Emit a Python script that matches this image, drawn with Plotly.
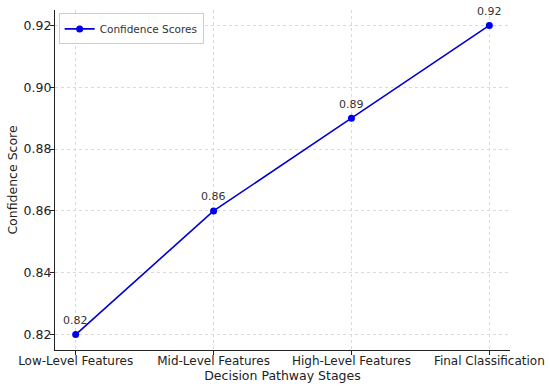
import plotly.graph_objects as go

stages = ["Low-Level Features", "Mid-Level Features", "High-Level Features", "Final Classification"]
scores = [0.82, 0.86, 0.89, 0.92]
y_ticks = [0.82, 0.84, 0.86, 0.88, 0.90, 0.92]
y_tick_labels = ["0.82", "0.84", "0.86", "0.88", "0.90", "0.92"]

FONT = "DejaVu Sans"
fig = go.Figure()
fig.add_trace(go.Scatter(
    x=list(range(len(stages))), y=scores, mode="lines+markers",
    name="Confidence Scores",
    line=dict(color="#0000d0", width=1.6),
    marker=dict(color="#0000ee", size=7),
))
for i, v in enumerate(scores):
    fig.add_annotation(x=i, y=v, text=f"{v:.2f}", showarrow=False, yshift=14,
                       font=dict(family=FONT, size=11, color="#333333"))

fig.update_layout(
    width=550, height=387,
    margin=dict(l=55, r=40, t=10, b=37),
    paper_bgcolor="white", plot_bgcolor="white",
    font=dict(family=FONT, size=12, color="#222222"),
    showlegend=True,
    legend=dict(x=0.008, y=0.99, xanchor="left", yanchor="top",
                bgcolor="rgba(255,255,255,0.8)", bordercolor="#cccccc", borderwidth=1,
                itemwidth=30, tracegroupgap=0,
                font=dict(family=FONT, size=10.5, color="#333333")),
    xaxis=dict(range=[-0.15, 3.15], tickmode="array", tickvals=list(range(len(stages))),
               ticktext=stages, showline=True, linecolor="#222222", linewidth=1.2,
               ticks="outside", ticklen=4, tickcolor="#222222", automargin=False,
               ticklabelstandoff=-5,
               showgrid=True, gridcolor="#dadada", griddash="dot", gridwidth=1,
               zeroline=False, tickfont=dict(size=12),
               title=dict(text="Decision Pathway Stages", font=dict(size=12.5), standoff=0)),
    yaxis=dict(range=[0.815, 0.925], tickmode="array", tickvals=y_ticks,
               ticktext=y_tick_labels, showline=True, linecolor="#222222", linewidth=1.2,
               ticks="outside", ticklen=4, tickcolor="#222222", automargin=False,
               ticklabelstandoff=-4,
               showgrid=True, gridcolor="#dadada", griddash="dot", gridwidth=1,
               zeroline=False, tickfont=dict(size=12.5),
               title=dict(text="Confidence Score", font=dict(size=12.5), standoff=3)),
)
fig.write_html("out.html", config={"displayModeBar": False},
               post_script="document.body.style.margin='0';document.body.style.padding='0';")
